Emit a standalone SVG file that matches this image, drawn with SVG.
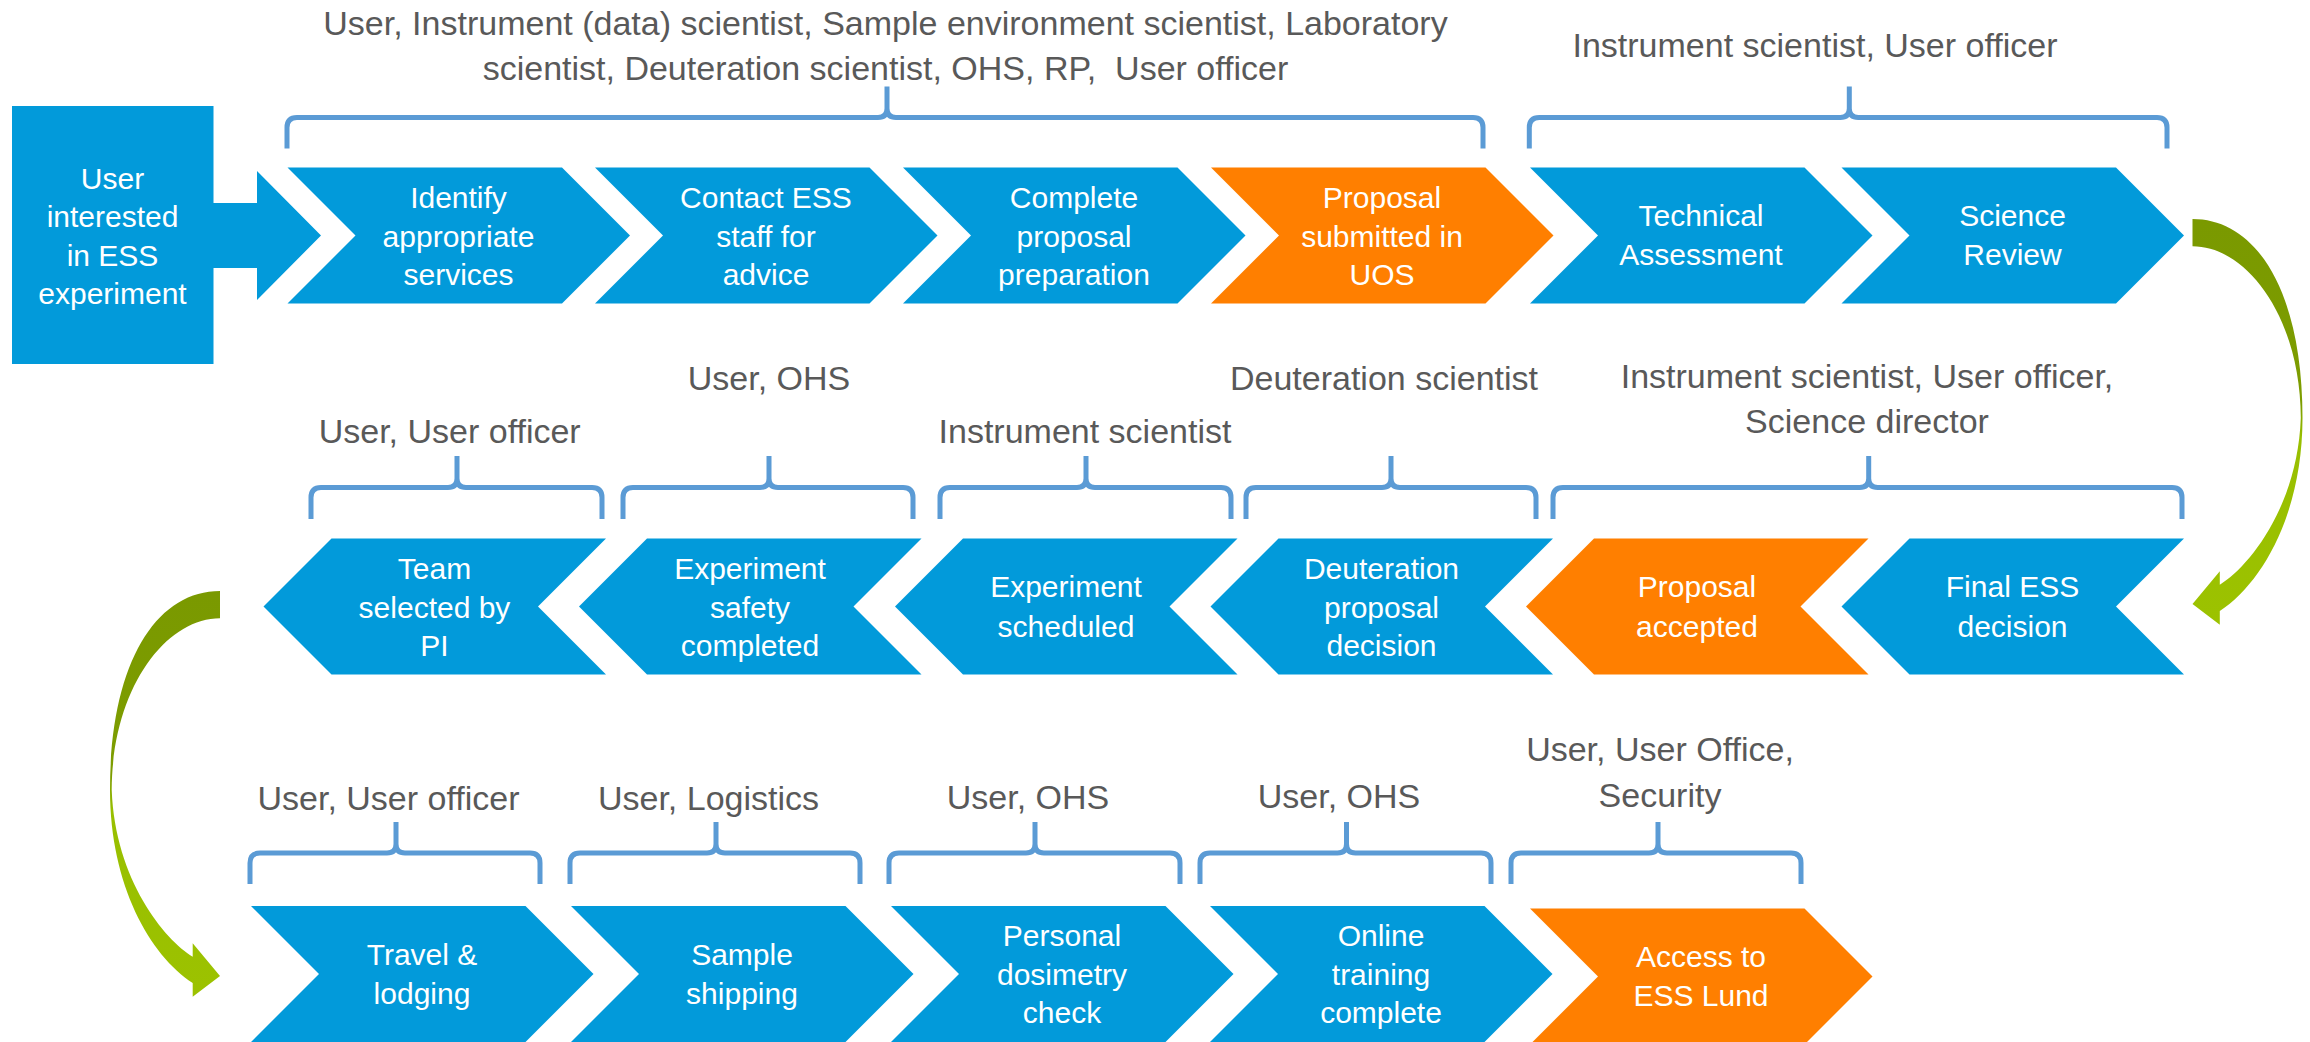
<svg xmlns="http://www.w3.org/2000/svg" width="2310" height="1042" viewBox="0 0 2310 1042">
<style>
.b{fill:#029ADA}
.o{fill:#FF7F00}
.w{fill:#FFFFFF;font-family:"Liberation Sans",Arial,sans-serif;font-size:30px;text-anchor:middle}
.g{fill:#595959;font-family:"Liberation Sans",Arial,sans-serif;font-size:34px;text-anchor:middle;white-space:pre}
.br{fill:none;stroke:#5B9BD5;stroke-width:5}
</style>
<defs>
<linearGradient id="grn" x1="0" y1="0" x2="0" y2="1">
<stop offset="0" stop-color="#7A9900"/>
<stop offset="0.46" stop-color="#7D9D00"/>
<stop offset="0.54" stop-color="#98BF00"/>
<stop offset="1" stop-color="#9CC200"/>
</linearGradient>
<path id="curve" d="M220,591 C155,591 110,665 110,790 C110,885 150,955 192.7,983 L192.7,996.7 L220,976 L192.7,943.3 L192.7,956.7 C165,940 115,880 111.7,790 C112,690 165,618.3 220,618.3 Z"/>
</defs>
<rect width="2310" height="1042" fill="#FFFFFF"/>

<g id="connectors">
<use href="#curve" fill="url(#grn)"/>
<use href="#curve" fill="url(#grn)" transform="translate(2412.5 -372) scale(-1 1)"/>
</g>

<g id="braces">
<path class="br" d="M287,148.5 V127.5 Q287,117.5 297,117.5 H878 Q887,117.5 887,108.5 V86.5 M887,108.5 Q887,117.5 896,117.5 H1473 Q1483,117.5 1483,127.5 V148.5"/>
<path class="br" d="M1529.3,148.5 V127.5 Q1529.3,117.5 1539.3,117.5 H1840.3 Q1849.3,117.5 1849.3,108.5 V86.5 M1849.3,108.5 Q1849.3,117.5 1858.3,117.5 H2157 Q2167,117.5 2167,127.5 V148.5"/>
<path class="br" d="M311,519 V497.5 Q311,487.5 321,487.5 H448 Q457,487.5 457,478.5 V456 M457,478.5 Q457,487.5 466,487.5 H592 Q602,487.5 602,497.5 V519"/>
<path class="br" d="M623,519 V497.5 Q623,487.5 633,487.5 H760 Q769,487.5 769,478.5 V456 M769,478.5 Q769,487.5 778,487.5 H903 Q913,487.5 913,497.5 V519"/>
<path class="br" d="M940,519 V497.5 Q940,487.5 950,487.5 H1077 Q1086,487.5 1086,478.5 V456 M1086,478.5 Q1086,487.5 1095,487.5 H1221 Q1231,487.5 1231,497.5 V519"/>
<path class="br" d="M1246,519 V497.5 Q1246,487.5 1256,487.5 H1382 Q1391,487.5 1391,478.5 V456 M1391,478.5 Q1391,487.5 1400,487.5 H1526 Q1536,487.5 1536,497.5 V519"/>
<path class="br" d="M1553,519 V497.5 Q1553,487.5 1563,487.5 H1859.7 Q1868.7,487.5 1868.7,478.5 V456 M1868.7,478.5 Q1868.7,487.5 1877.7,487.5 H2172 Q2182,487.5 2182,497.5 V519"/>
<path class="br" d="M250,884 V863 Q250,853 260,853 H387 Q396,853 396,844 V822 M396,844 Q396,853 405,853 H530 Q540,853 540,863 V884"/>
<path class="br" d="M570,884 V863 Q570,853 580,853 H707 Q716,853 716,844 V822 M716,844 Q716,853 725,853 H850 Q860,853 860,863 V884"/>
<path class="br" d="M889,884 V863 Q889,853 899,853 H1026 Q1035,853 1035,844 V822 M1035,844 Q1035,853 1044,853 H1170 Q1180,853 1180,863 V884"/>
<path class="br" d="M1200,884 V863 Q1200,853 1210,853 H1337.5 Q1346.5,853 1346.5,844 V822 M1346.5,844 Q1346.5,853 1355.5,853 H1481 Q1491,853 1491,863 V884"/>
<path class="br" d="M1511,884 V863 Q1511,853 1521,853 H1649 Q1658,853 1658,844 V822 M1658,844 Q1658,853 1667,853 H1791 Q1801,853 1801,863 V884"/>
</g>

<g id="roles">
<text class="g" x="885.5" y="35">User, Instrument (data) scientist, Sample environment scientist, Laboratory</text>
<text class="g" x="885.5" y="80">scientist, Deuteration scientist, OHS, RP,  User officer</text>
<text class="g" x="1815" y="56.7">Instrument scientist, User officer</text>
<text class="g" x="449.7" y="443.3">User, User officer</text>
<text class="g" x="769" y="390">User, OHS</text>
<text class="g" x="1085" y="443.3">Instrument scientist</text>
<text class="g" x="1384" y="390">Deuteration scientist</text>
<text class="g" x="1867" y="388">Instrument scientist, User officer,</text>
<text class="g" x="1867" y="433">Science director</text>
<text class="g" x="388.5" y="810">User, User officer</text>
<text class="g" x="708.5" y="810">User, Logistics</text>
<text class="g" x="1028" y="809">User, OHS</text>
<text class="g" x="1339" y="808">User, OHS</text>
<text class="g" x="1660" y="761">User, User Office,</text>
<text class="g" x="1660" y="807">Security</text>
</g>

<g id="start">
<path class="b" d="M12,106 H213.5 V203 H257 V171 L321,235.5 L257,300 V268 H213.5 V364 H12 Z"/>
<text class="w" x="112.5" y="189">User</text>
<text class="w" x="112.5" y="227.3">interested</text>
<text class="w" x="112.5" y="265.6">in ESS</text>
<text class="w" x="112.5" y="303.9">experiment</text>
</g>

<g id="identify">
<polygon class="b" points="287.5,167.5 562,167.5 630,235.5 562,303.5 287.5,303.5 355.5,235.5"/>
<text class="w" x="458.5" y="208">Identify</text>
<text class="w" x="458.5" y="246.5">appropriate</text>
<text class="w" x="458.5" y="285">services</text>
</g>
<g id="contact">
<polygon class="b" points="595,167.5 869.5,167.5 937.5,235.5 869.5,303.5 595,303.5 663,235.5"/>
<text class="w" x="766" y="208">Contact ESS</text>
<text class="w" x="766" y="246.5">staff for</text>
<text class="w" x="766" y="285">advice</text>
</g>
<g id="complete">
<polygon class="b" points="903,167.5 1177.5,167.5 1245.5,235.5 1177.5,303.5 903,303.5 971,235.5"/>
<text class="w" x="1074" y="208">Complete</text>
<text class="w" x="1074" y="246.5">proposal</text>
<text class="w" x="1074" y="285">preparation</text>
</g>
<g id="submitted">
<polygon class="o" points="1211,167.5 1485.5,167.5 1553.5,235.5 1485.5,303.5 1211,303.5 1279,235.5"/>
<text class="w" x="1382" y="208">Proposal</text>
<text class="w" x="1382" y="246.5">submitted in</text>
<text class="w" x="1382" y="285">UOS</text>
</g>
<g id="technical">
<polygon class="b" points="1530,167.5 1804.5,167.5 1872.5,235.5 1804.5,303.5 1530,303.5 1598,235.5"/>
<text class="w" x="1701" y="226">Technical</text>
<text class="w" x="1701" y="265">Assessment</text>
</g>
<g id="science">
<polygon class="b" points="1841.5,167.5 2116,167.5 2184,235.5 2116,303.5 1841.5,303.5 1909.5,235.5"/>
<text class="w" x="2012.5" y="226">Science</text>
<text class="w" x="2012.5" y="265">Review</text>
</g>

<g id="final">
<polygon class="b" points="1841.5,606.5 1909.5,538.5 2184,538.5 2116,606.5 2184,674.5 1909.5,674.5"/>
<text class="w" x="2012.5" y="597">Final ESS</text>
<text class="w" x="2012.5" y="636.5">decision</text>
</g>
<g id="accepted">
<polygon class="o" points="1526,606.5 1594,538.5 1868.5,538.5 1800.5,606.5 1868.5,674.5 1594,674.5"/>
<text class="w" x="1697" y="597">Proposal</text>
<text class="w" x="1697" y="636.5">accepted</text>
</g>
<g id="deuteration">
<polygon class="b" points="1210.5,606.5 1278.5,538.5 1553,538.5 1485,606.5 1553,674.5 1278.5,674.5"/>
<text class="w" x="1381.5" y="578.5">Deuteration</text>
<text class="w" x="1381.5" y="617.5">proposal</text>
<text class="w" x="1381.5" y="656">decision</text>
</g>
<g id="scheduled">
<polygon class="b" points="895,606.5 963,538.5 1237.5,538.5 1169.5,606.5 1237.5,674.5 963,674.5"/>
<text class="w" x="1066" y="597">Experiment</text>
<text class="w" x="1066" y="636.5">scheduled</text>
</g>
<g id="safety">
<polygon class="b" points="579,606.5 647,538.5 921.5,538.5 853.5,606.5 921.5,674.5 647,674.5"/>
<text class="w" x="750" y="578.5">Experiment</text>
<text class="w" x="750" y="617.5">safety</text>
<text class="w" x="750" y="656">completed</text>
</g>
<g id="team">
<polygon class="b" points="263.5,606.5 331.5,538.5 606,538.5 538,606.5 606,674.5 331.5,674.5"/>
<text class="w" x="434.5" y="578.5">Team</text>
<text class="w" x="434.5" y="617.5">selected by</text>
<text class="w" x="434.5" y="656">PI</text>
</g>

<g id="travel">
<polygon class="b" points="251,906 525.5,906 593.5,974 525.5,1042 251,1042 319,974"/>
<text class="w" x="422" y="965">Travel &amp;</text>
<text class="w" x="422" y="1004">lodging</text>
</g>
<g id="shipping">
<polygon class="b" points="571,906 845.5,906 913.5,974 845.5,1042 571,1042 639,974"/>
<text class="w" x="742" y="965">Sample</text>
<text class="w" x="742" y="1004">shipping</text>
</g>
<g id="dosimetry">
<polygon class="b" points="891,906 1165.5,906 1233.5,974 1165.5,1042 891,1042 959,974"/>
<text class="w" x="1062" y="945.5">Personal</text>
<text class="w" x="1062" y="985">dosimetry</text>
<text class="w" x="1062" y="1023">check</text>
</g>
<g id="training">
<polygon class="b" points="1210,906 1484.5,906 1552.5,974 1484.5,1042 1210,1042 1278,974"/>
<text class="w" x="1381" y="945.5">Online</text>
<text class="w" x="1381" y="985">training</text>
<text class="w" x="1381" y="1023">complete</text>
</g>
<g id="access">
<polygon class="o" points="1530,908.5 1804.5,908.5 1872.5,976.5 1804.5,1044.5 1530,1044.5 1598,976.5"/>
<text class="w" x="1701" y="966.7">Access to</text>
<text class="w" x="1701" y="1006">ESS Lund</text>
</g>
</svg>
